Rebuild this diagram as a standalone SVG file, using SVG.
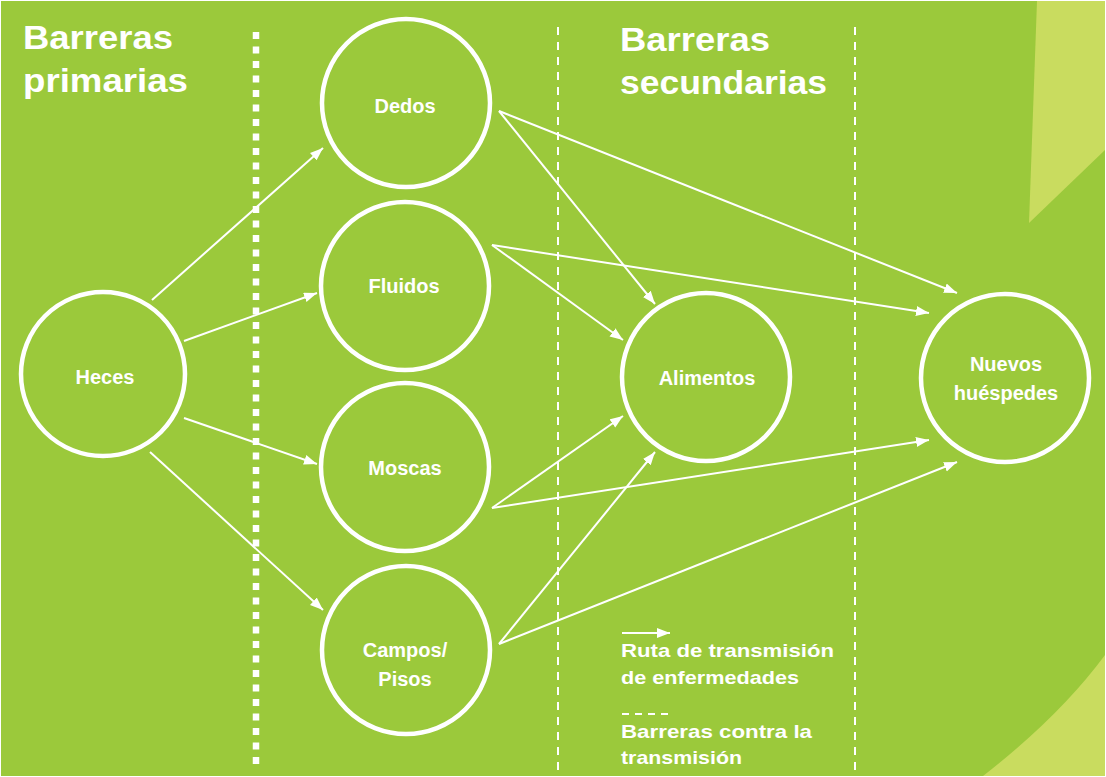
<svg xmlns="http://www.w3.org/2000/svg" width="1106" height="777" viewBox="0 0 1106 777">
  <defs>
    <style>
      .bg { fill: #9BC93B; }
      .light { fill: #C9DC5F; }
      .node { fill: none; stroke: #FFFFFF; stroke-width: 4.5; }
      .lbl { font-family: "Liberation Sans", Arial, sans-serif; font-weight: bold; font-size: 20px; fill: #FFFFFF; text-anchor: middle; }
      .title { font-family: "Liberation Sans", Arial, sans-serif; font-weight: bold; font-size: 33px; fill: #FFFFFF; }
      .legend { font-family: "Liberation Sans", Arial, sans-serif; font-weight: bold; font-size: 19px; fill: #FFFFFF; }
      .edge { stroke: #FFFFFF; stroke-width: 2; fill: none; marker-end: url(#arrow); }
      .thick { stroke: #FFFFFF; stroke-width: 6.5; stroke-dasharray: 7 7.5; fill: none; }
      .thin { stroke: #FFFFFF; stroke-width: 2; stroke-dasharray: 8 7; fill: none; }
    </style>
    <marker id="arrow" markerUnits="userSpaceOnUse" markerWidth="14" markerHeight="12" refX="13" refY="5" orient="auto">
      <path d="M0,0 L13,5 L0,10 Z" fill="#FFFFFF"/>
    </marker>
  </defs>

  <rect x="0" y="0" width="1106" height="777" fill="#FFFFFF"/>
  <rect class="bg" x="1" y="1" width="1104" height="775"/>
  <polygon class="light" points="1037,1 1105,1 1105,150 1029,223"/>
  <path class="light" d="M1105,655 Q1060,716 983,776 L1105,776 Z"/>

  <g id="barriers">
    <line class="thick" x1="256" y1="32" x2="256" y2="770"/>
    <line class="thin" x1="558" y1="27" x2="558" y2="772"/>
    <line class="thin" x1="855" y1="27" x2="855" y2="772"/>
  </g>

  <g id="titles">
    <text class="title" x="23" y="49" textLength="150" lengthAdjust="spacingAndGlyphs">Barreras</text>
    <text class="title" x="23" y="92" textLength="165" lengthAdjust="spacingAndGlyphs">primarias</text>
    <text class="title" x="620" y="51" textLength="150" lengthAdjust="spacingAndGlyphs">Barreras</text>
    <text class="title" x="620" y="94" textLength="207" lengthAdjust="spacingAndGlyphs">secundarias</text>
  </g>

  <g id="connectors">
    <line class="edge" x1="152" y1="300" x2="323" y2="148"/>
    <line class="edge" x1="184" y1="341" x2="317" y2="293"/>
    <line class="edge" x1="184" y1="418" x2="317" y2="464"/>
    <line class="edge" x1="150" y1="452" x2="323" y2="610"/>
    <line class="edge" x1="499" y1="111" x2="655" y2="304"/>
    <line class="edge" x1="499" y1="111" x2="957" y2="293"/>
    <line class="edge" x1="492" y1="245" x2="623" y2="340"/>
    <line class="edge" x1="492" y1="245" x2="929" y2="313"/>
    <line class="edge" x1="492" y1="508" x2="623" y2="416"/>
    <line class="edge" x1="492" y1="508" x2="929" y2="440"/>
    <line class="edge" x1="499" y1="644" x2="655" y2="452"/>
    <line class="edge" x1="499" y1="644" x2="957" y2="462"/>
  </g>

  <g id="node-heces">
    <circle class="node" cx="103" cy="374" r="82"/>
    <text class="lbl" x="105" y="384">Heces</text>
  </g>
  <g id="node-dedos">
    <circle class="node" cx="406" cy="103" r="84"/>
    <text class="lbl" x="405" y="113">Dedos</text>
  </g>
  <g id="node-fluidos">
    <circle class="node" cx="405" cy="286" r="84"/>
    <text class="lbl" x="404" y="293">Fluidos</text>
  </g>
  <g id="node-moscas">
    <circle class="node" cx="405" cy="467" r="84"/>
    <text class="lbl" x="405" y="475">Moscas</text>
  </g>
  <g id="node-campos">
    <circle class="node" cx="406" cy="650" r="84"/>
    <text class="lbl" x="405" y="657">Campos/</text>
    <text class="lbl" x="405" y="686">Pisos</text>
  </g>
  <g id="node-alimentos">
    <circle class="node" cx="706" cy="377" r="84"/>
    <text class="lbl" x="707" y="385">Alimentos</text>
  </g>
  <g id="node-nuevos">
    <circle class="node" cx="1005" cy="378" r="84"/>
    <text class="lbl" x="1006" y="371">Nuevos</text>
    <text class="lbl" x="1006" y="400">huéspedes</text>
  </g>

  <g id="legend">
    <line x1="622" y1="633" x2="670" y2="633" stroke="#FFFFFF" stroke-width="2" marker-end="url(#arrow)"/>
    <text class="legend" x="621" y="657" textLength="213" lengthAdjust="spacingAndGlyphs">Ruta de transmisión</text>
    <text class="legend" x="621" y="684" textLength="178" lengthAdjust="spacingAndGlyphs">de enfermedades</text>
    <line x1="622" y1="714" x2="670" y2="714" stroke="#FFFFFF" stroke-width="2" stroke-dasharray="7 6"/>
    <text class="legend" x="621" y="738" textLength="191" lengthAdjust="spacingAndGlyphs">Barreras contra la</text>
    <text class="legend" x="621" y="764" textLength="121" lengthAdjust="spacingAndGlyphs">transmisión</text>
  </g>
</svg>
